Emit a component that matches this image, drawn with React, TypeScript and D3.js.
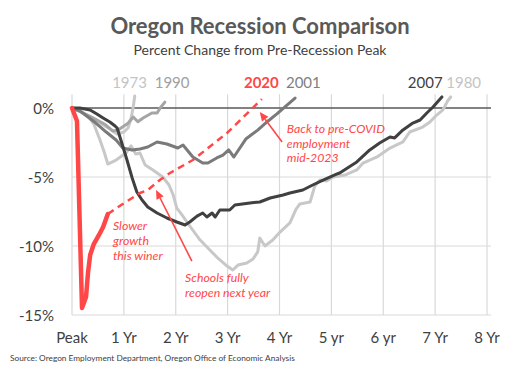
import React from "react";
import * as d3 from "d3";

// ---- data: [years since peak, % change from peak] ----
const s1973: [number, number][] = [
  [0, 0], [0.15, -0.22], [0.35, -0.65], [0.54, -1.09], [0.73, -1.52], [0.87, -1.88],
  [1.0, -1.74], [1.08, -1.45], [1.14, -0.72], [1.18, 0.07], [1.21, 0.87],
];
const s1980: [number, number][] = [
  [0, 0], [0.15, -0.22], [0.31, -0.58], [0.42, -1.16], [0.54, -2.32], [0.62, -3.19], [0.69, -4.06],
  [0.85, -3.77], [1.04, -3.26], [1.14, -2.75], [1.23, -3.33], [1.31, -3.26], [1.41, -4.13],
  [1.56, -4.49], [1.75, -5.0], [1.87, -5.58], [1.95, -6.3], [2.02, -7.25], [2.12, -7.75],
  [2.27, -8.55], [2.47, -9.57], [2.62, -10.14], [2.79, -10.8], [2.99, -11.45], [3.1, -11.74],
  [3.2, -11.38], [3.37, -11.23], [3.49, -10.94], [3.58, -10.43], [3.62, -9.42], [3.72, -10.0],
  [3.87, -9.57], [4.01, -8.99], [4.2, -8.33], [4.32, -7.32], [4.39, -6.96], [4.59, -6.81],
  [4.68, -5.65], [4.78, -5.22], [4.91, -5.29], [5.03, -5.0], [5.26, -4.86], [5.49, -4.49],
  [5.61, -3.99], [5.88, -3.55], [6.13, -2.9], [6.38, -2.46], [6.51, -1.74], [6.76, -1.38],
  [6.9, -1.01], [7.03, -0.51], [7.15, -0.14], [7.24, 0.51], [7.3, 0.8],
];
const s1990: [number, number][] = [
  [0, 0], [0.35, -0.6], [0.64, -1.2], [0.79, -1.67], [0.89, -1.6], [1.08, -1.1], [1.18, -0.65],
  [1.27, -1.0], [1.37, -0.72], [1.54, -0.36], [1.64, -0.36], [1.7, 0], [1.79, 0.43],
];
const s2001: [number, number][] = [
  [0, 0], [0.15, -0.2], [0.46, -1.09], [0.66, -1.74], [0.85, -2.32], [0.98, -2.9], [1.16, -3.04],
  [1.31, -2.97], [1.46, -2.83], [1.64, -2.46], [1.83, -2.61], [2.04, -2.9], [2.14, -2.68],
  [2.33, -3.55], [2.52, -3.99], [2.62, -3.99], [2.79, -3.62], [2.91, -3.41], [3.02, -3.04],
  [3.12, -3.55], [3.35, -2.25], [3.58, -1.6], [3.78, -0.94], [3.95, -0.43], [4.1, 0.07], [4.3, 0.72],
];
const s2007: [number, number][] = [
  [0, 0], [0.15, 0], [0.35, -0.14], [0.48, -0.43], [0.6, -0.72], [0.73, -1.01], [0.83, -1.3],
  [0.87, -1.45], [0.96, -2.54], [1.06, -3.77], [1.16, -5.07], [1.25, -6.09], [1.35, -6.67],
  [1.46, -7.17], [1.64, -7.61], [1.83, -7.97], [2.02, -8.26], [2.18, -8.48], [2.27, -8.26],
  [2.41, -7.83], [2.52, -7.61], [2.6, -7.9], [2.7, -7.61], [2.76, -7.9], [2.85, -7.39],
  [3.04, -7.39], [3.14, -7.03], [3.43, -6.88], [3.62, -6.81], [3.82, -6.52], [4.07, -6.3],
  [4.2, -6.16], [4.45, -5.94], [4.64, -5.58], [4.84, -5.22], [5.11, -4.78], [5.16, -4.71],
  [5.49, -3.91], [5.74, -3.04], [5.93, -2.54], [6.13, -2.1], [6.22, -2.17], [6.38, -1.59],
  [6.57, -1.09], [6.71, -0.87], [6.84, -0.36], [6.96, 0.07], [7.13, 0.8],
];
const s2020: [number, number][] = [
  [0, 0], [0.096, -0.94], [0.193, -14.49], [0.27, -13.7], [0.31, -11.88], [0.35, -10.65],
  [0.42, -9.86], [0.52, -9.2], [0.6, -8.62], [0.69, -7.68],
];
const s2020proj: [number, number][] = [
  [0.69, -7.68], [1.0, -6.9], [1.31, -6.16], [1.46, -5.94], [1.7, -5.2], [1.89, -4.71],
  [2.33, -3.77], [2.99, -1.81], [3.66, 0.65],
];

const xTicks = [0, 1, 2, 3, 4, 5, 6, 7, 8];
const xTickLabels = ["Peak", "1 Yr", "2 Yr", "3 Yr", "4 Yr", "5 yr", "6 yr", "7 Yr", "8 Yr"];
const yTicks = [0, -5, -10, -15];
const yTickLabels = ["0%", "-5%", "-10%", "-15%"];

const seriesNames = ["1973", "1990", "2020", "2001", "2007", "1980"];
const seriesLabelX = [1.11, 1.93, 3.65, 4.46, 6.81, 7.55];

const title = "Oregon Recession Comparison";
const subtitle = "Percent Change from Pre-Recession Peak";
const source = "Source: Oregon Employment Department, Oregon Office of Economic Analysis";
const note1 = ["Back to pre-COVID", "employment", "mid-2023"];
const note2 = ["Slower", "growth", "this winer"];
const note3 = ["Schools fully", "reopen next year"];

const W = 520;
const H = 368;
const FONT = "Lato, 'Open Sans', sans-serif";
const RED = "#ff4747";

export default function App() {
  const x = d3.scaleLinear().domain([0, 8]).range([72, 487]);
  const y = d3.scaleLinear().domain([-15, 1]).range([315, 94.2]);
  const line = d3
    .line<[number, number]>()
    .x((d) => x(d[0]))
    .y((d) => y(d[1]));

  const labelColors: Record<string, string> = {
    "1973": "#c4c4c4",
    "1990": "#a0a0a0",
    "2020": RED,
    "2001": "#7f7f7f",
    "2007": "#404040",
    "1980": "#c4c4c4",
  };

  const arrow = (x1: number, y1: number, x2: number, y2: number, key: string) => {
    const ang = Math.atan2(y2 - y1, x2 - x1);
    const len = 9;
    const w = 4;
    const bx = x2 - len * Math.cos(ang);
    const by = y2 - len * Math.sin(ang);
    const px = -Math.sin(ang) * w;
    const py = Math.cos(ang) * w;
    return (
      <g key={key}>
        <line x1={x1} y1={y1} x2={bx} y2={by} stroke={RED} strokeWidth={1.6} />
        <polygon
          points={`${x2},${y2} ${bx + px},${by + py} ${bx - px},${by - py}`}
          fill={RED}
        />
      </g>
    );
  };

  return (
    <svg
      width={W}
      height={H}
      style={{ position: "absolute", left: 0, top: 0, background: "#fff" }}
      fontFamily={FONT}
    >
      <rect width={W} height={H} fill="#fff" />
      <text x={260} y={34} textAnchor="middle" fontSize={22} fontWeight="bold" fill="#595959">
        {title}
      </text>
      <text x={260} y={55} textAnchor="middle" fontSize={14} fill="#404040">
        {subtitle}
      </text>

      {/* gridlines */}
      {xTicks.map((t) => (
        <line key={"vx" + t} x1={x(t)} x2={x(t)} y1={y(1)} y2={y(-15)} stroke="#d9d9d9" strokeWidth={1.2} />
      ))}
      {yTicks
        .filter((t) => t !== 0)
        .map((t) => (
          <line key={"hy" + t} x1={x(0)} x2={491} y1={y(t)} y2={y(t)} stroke="#d9d9d9" strokeWidth={1.2} />
        ))}
      <line x1={x(0)} x2={491} y1={y(0)} y2={y(0)} stroke="#595959" strokeWidth={1.3} />

      {/* tick labels */}
      {yTicks.map((t, i) => (
        <text key={"yl" + t} x={54} y={y(t) + 5.5} textAnchor="end" fontSize={15} fill="#404040">
          {yTickLabels[i]}
        </text>
      ))}
      {xTicks.map((t, i) => (
        <text key={"xl" + t} x={x(t)} y={343} textAnchor="middle" fontSize={15} fill="#404040">
          {xTickLabels[i]}
        </text>
      ))}

      {/* series */}
      <g fill="none" strokeLinejoin="round" strokeLinecap="round">
        <path d={line(s1973) || ""} stroke="#c8c8c8" strokeWidth={3} />
        <path d={line(s1980) || ""} stroke="#c8c8c8" strokeWidth={3} />
        <path d={line(s1990) || ""} stroke="#a5a5a5" strokeWidth={3} />
        <path d={line(s2001) || ""} stroke="#7a7a7a" strokeWidth={3} />
        <path d={line(s2007) || ""} stroke="#404040" strokeWidth={3} />
        <path d={line(s2020proj) || ""} stroke={RED} strokeWidth={2.5} strokeDasharray="7 5" strokeLinecap="butt" />
        <path d={line(s2020) || ""} stroke={RED} strokeWidth={4.5} />
      </g>

      {/* series labels */}
      {seriesNames.map((n, i) => (
        <text
          key={"sl" + n}
          x={x(seriesLabelX[i])}
          y={88}
          textAnchor="middle"
          fontSize={15}
          fontWeight={n === "2020" ? "bold" : "normal"}
          fill={labelColors[n]}
        >
          {n}
        </text>
      ))}

      {/* annotations */}
      <g fill={RED} fontStyle="italic" fontSize={12.3}>
        {note1.map((t, i) => (
          <text key={"n1" + i} x={x(4.14)} y={y(-1.81) + i * 14.7}>
            {t}
          </text>
        ))}
        {note2.map((t, i) => (
          <text key={"n2" + i} x={x(0.79)} y={y(-8.84) + i * 15}>
            {t}
          </text>
        ))}
        {note3.map((t, i) => (
          <text key={"n3" + i} x={x(2.18)} y={y(-12.61) + i * 14.5}>
            {t}
          </text>
        ))}
      </g>
      {arrow(x(4.05), y(-2.46), x(3.62), y(-0.29), "a1")}
      {arrow(x(2.31), y(-11.09), x(1.62), y(-5.94), "a2")}

      <text x={10} y={361} fontSize={8.3} fill="#404040">
        {source}
      </text>
    </svg>
  );
}
